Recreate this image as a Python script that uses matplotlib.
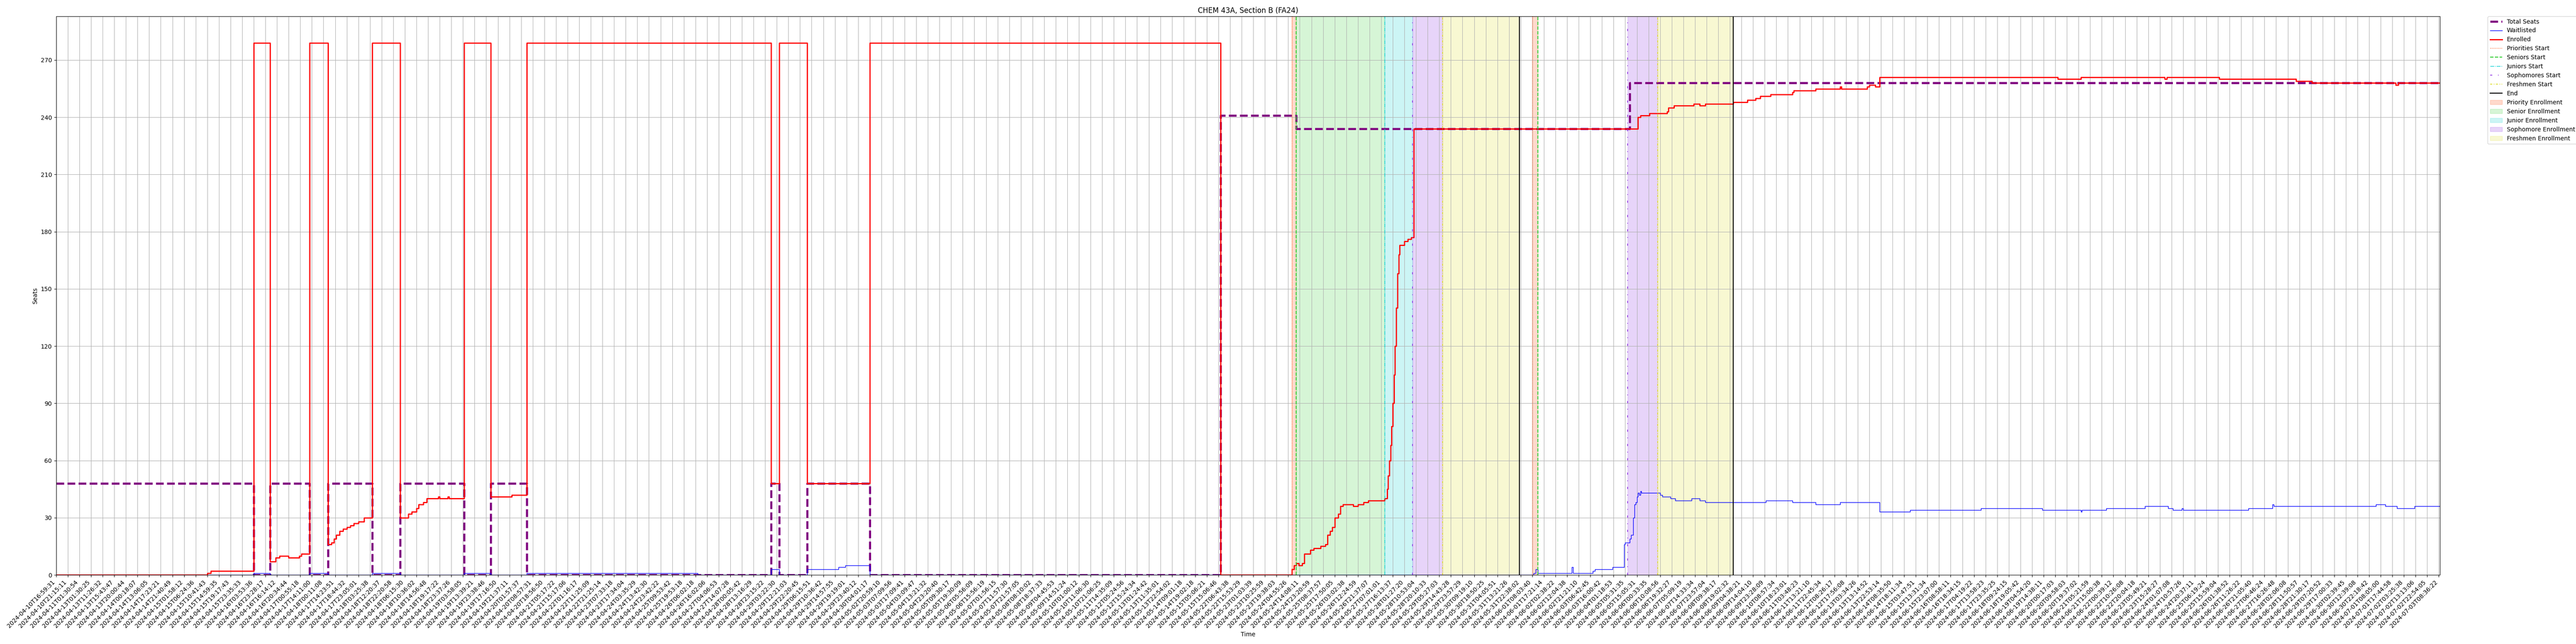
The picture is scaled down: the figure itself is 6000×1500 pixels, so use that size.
import numpy as np
import matplotlib
matplotlib.use('Agg')
import matplotlib.pyplot as plt

# x positions are sample numbers (one scrape per sample), a tick every 10 samples
n_samples = 2052
tick_every = 10

tick_labels = [
    '2024-04-10T16:59:31', '2024-04-10T21:15:11', '2024-04-11T01:30:54', '2024-04-13T01:30:25',
    '2024-04-13T11:26:32', '2024-04-13T15:43:47', '2024-04-13T20:00:44', '2024-04-14T00:18:07',
    '2024-04-14T13:06:05', '2024-04-14T17:23:21', '2024-04-14T21:40:49', '2024-04-15T01:58:12',
    '2024-04-15T06:24:36', '2024-04-15T10:41:43', '2024-04-15T14:59:35', '2024-04-15T19:17:43',
    '2024-04-15T23:35:33', '2024-04-16T03:53:36', '2024-04-16T23:28:17', '2024-04-16T16:14:12',
    '2024-04-16T20:34:44', '2024-04-17T00:55:18', '2024-04-17T14:11:00', '2024-04-18T00:11:08',
    '2024-04-17T14:23:51', '2024-04-17T18:44:32', '2024-04-17T23:05:01', '2024-04-18T03:25:38',
    '2024-04-18T12:20:37', '2024-04-18T22:20:58', '2024-04-18T06:15:30', '2024-04-18T10:36:02',
    '2024-04-18T14:56:48', '2024-04-18T19:17:22', '2024-04-18T23:37:26', '2024-04-19T03:58:05',
    '2024-04-19T13:39:21', '2024-04-19T23:38:46', '2024-04-19T17:16:50', '2024-04-19T21:37:11',
    '2024-04-20T01:57:37', '2024-04-20T08:57:31', '2024-04-20T18:56:50', '2024-04-21T05:17:22',
    '2024-04-21T15:17:06', '2024-04-22T01:16:17', '2024-04-22T11:25:09', '2024-04-22T21:25:14',
    '2024-04-23T07:33:18', '2024-04-23T17:34:04', '2024-04-24T03:35:29', '2024-04-24T13:42:30',
    '2024-04-24T23:42:22', '2024-04-25T09:53:42', '2024-04-25T19:53:18', '2024-04-26T06:02:18',
    '2024-04-26T16:02:06', '2024-04-27T04:06:53', '2024-04-27T14:07:28', '2024-04-28T00:05:42',
    '2024-04-28T13:16:29', '2024-04-28T23:15:22', '2024-04-29T03:22:30', '2024-04-29T12:21:03',
    '2024-04-29T22:20:45', '2024-04-29T06:15:51', '2024-04-29T10:36:42', '2024-04-29T14:57:55',
    '2024-04-29T19:19:01', '2024-04-29T23:40:12', '2024-04-30T04:01:17', '2024-05-02T20:59:10',
    '2024-05-03T07:09:56', '2024-05-03T17:09:41', '2024-05-04T03:09:47', '2024-05-04T13:21:32',
    '2024-05-04T23:20:40', '2024-05-05T09:30:17', '2024-05-05T19:30:09', '2024-05-06T05:56:09',
    '2024-05-06T15:56:19', '2024-05-07T01:56:15', '2024-05-07T11:57:30', '2024-05-07T21:57:05',
    '2024-05-08T08:10:02', '2024-05-08T18:37:33', '2024-05-09T04:45:53', '2024-05-09T14:51:24',
    '2024-05-10T01:00:12', '2024-05-10T11:06:30', '2024-05-10T21:06:25', '2024-05-11T14:35:09',
    '2024-05-12T05:24:56', '2024-05-12T15:24:34', '2024-05-13T01:24:42', '2024-05-13T11:35:01',
    '2024-05-13T22:54:02', '2024-05-14T09:01:18', '2024-05-14T19:02:18', '2024-05-15T05:06:21',
    '2024-05-15T15:06:46', '2024-05-22T06:43:38', '2024-05-22T15:53:29', '2024-05-23T01:03:39',
    '2024-05-23T10:25:59', '2024-05-23T19:38:03', '2024-05-24T04:55:26', '2024-05-24T14:08:11',
    '2024-05-24T23:20:59', '2024-05-25T08:37:57', '2024-05-25T17:50:05', '2024-05-26T03:02:38',
    '2024-05-26T12:24:59', '2024-05-26T21:37:07', '2024-05-27T07:01:01', '2024-05-27T16:13:37',
    '2024-05-28T01:27:20', '2024-05-28T10:53:04', '2024-05-28T20:10:33', '2024-05-29T05:27:03',
    '2024-05-29T14:43:28', '2024-05-29T23:57:29', '2024-05-30T09:19:10', '2024-05-30T18:50:25',
    '2024-05-31T04:05:51', '2024-05-31T13:21:26', '2024-05-31T22:38:02', '2024-06-01T08:03:40',
    '2024-06-01T17:21:14', '2024-06-02T02:38:22', '2024-06-02T12:04:38', '2024-06-02T21:21:10',
    '2024-06-03T06:42:45', '2024-06-03T16:00:42', '2024-06-04T01:18:53', '2024-06-05T05:31:35',
    '2024-06-05T15:05:31', '2024-06-06T00:33:35', '2024-06-06T10:08:56', '2024-06-06T19:32:27',
    '2024-06-07T05:09:19', '2024-06-07T14:33:34', '2024-06-07T23:57:04', '2024-06-08T09:38:17',
    '2024-06-08T19:02:32', '2024-06-09T04:38:21', '2024-06-09T14:04:10', '2024-06-09T23:28:09',
    '2024-06-10T08:57:34', '2024-06-10T18:23:01', '2024-06-11T03:48:23', '2024-06-11T13:21:10',
    '2024-06-11T22:45:34', '2024-06-12T08:26:17', '2024-06-12T17:56:08', '2024-06-13T03:34:26',
    '2024-06-13T13:14:52', '2024-06-13T22:53:14', '2024-06-14T08:35:50', '2024-06-14T18:11:34',
    '2024-06-15T03:47:51', '2024-06-15T13:31:34', '2024-06-15T23:07:00', '2024-06-16T08:58:11',
    '2024-06-16T18:34:15', '2024-06-17T04:19:22', '2024-06-17T13:58:23', '2024-06-17T23:35:25',
    '2024-06-18T09:24:15', '2024-06-18T19:05:42', '2024-06-19T04:54:20', '2024-06-19T14:38:11',
    '2024-06-20T00:17:03', '2024-06-20T09:58:03', '2024-06-20T19:37:02', '2024-06-21T05:21:59',
    '2024-06-21T15:00:38', '2024-06-22T00:39:12', '2024-06-22T10:26:08', '2024-06-22T20:04:18',
    '2024-06-23T05:49:21', '2024-06-23T15:28:27', '2024-06-24T01:07:08', '2024-06-24T10:57:26',
    '2024-06-24T20:37:11', '2024-06-25T06:19:24', '2024-06-25T15:59:04', '2024-06-26T01:38:52',
    '2024-06-26T11:26:22', '2024-06-26T21:05:40', '2024-06-27T06:46:24', '2024-06-27T16:26:48',
    '2024-06-28T02:06:08', '2024-06-28T11:50:57', '2024-06-28T21:30:17', '2024-06-29T07:20:52',
    '2024-06-29T17:00:33', '2024-06-30T02:39:45', '2024-06-30T12:39:08', '2024-06-30T22:18:42',
    '2024-07-01T08:05:00', '2024-07-01T17:44:58', '2024-07-02T03:25:38', '2024-07-02T13:13:06',
    '2024-07-02T22:54:05', '2024-07-03T08:36:22',
]

# step series: sample where value changes, and new value
seats_x = [0, 170, 184, 218, 234, 272, 296, 351, 374, 405, 615, 622, 646, 700,
           1002, 1067, 1354, 2051]
seats_y = [48, 0, 48, 0, 48, 0, 48, 0, 48, 0, 48, 0, 48, 0,
           241, 234, 258, 258]

enrolled_x = [0, 130, 133, 170, 184, 189, 192, 200, 209, 211, 218,
              234, 237, 239, 241, 244, 247, 250, 253, 256, 260, 265, 272,
              296, 303, 306, 310, 312, 316, 319, 329, 330, 337, 338, 351,
              374, 392, 405, 615, 622, 646, 700, 1002,
              1063, 1065, 1067, 1069, 1072, 1074, 1079, 1082, 1088, 1092, 1094, 1096,
              1098, 1100, 1103, 1105, 1107, 1116, 1120, 1125, 1129,
              1143, 1145, 1146, 1147, 1148, 1149, 1150, 1151, 1152, 1153, 1154, 1155,
              1156, 1160, 1163, 1166, 1168,
              1361, 1363, 1371, 1386, 1387, 1392, 1409, 1414, 1419, 1443, 1455,
              1462, 1466, 1475, 1494, 1495, 1514, 1535, 1536, 1558, 1560, 1565, 1569,
              1722, 1742, 1814, 1816, 1861, 1927, 1941, 2013, 2015, 2051]
enrolled_y = [0, 1, 2, 279, 7, 9, 10, 9, 10, 11, 279,
              16, 17, 19, 21, 23, 24, 25, 26, 27, 28, 30, 279,
              30, 32, 33, 35, 37, 38, 40, 41, 40, 41, 40, 279,
              41, 42, 279, 48, 279, 48, 279, 0,
              3, 5, 6, 5, 6, 11, 13, 14, 15, 16, 21, 23,
              25, 30, 32, 36, 37, 36, 37, 38, 39,
              40, 45, 52, 60, 68, 78, 90, 105, 120, 140, 158, 168,
              173, 175, 176, 177, 234,
              240, 241, 242, 243, 245, 246, 247, 246, 247, 248, 249,
              250, 251, 252, 253, 254, 255, 256, 255, 256, 257, 256, 261,
              260, 261, 260, 261, 260, 259, 258, 257, 258, 258]

waitlist_x = [0, 170, 184, 218, 234, 272, 296, 351, 374, 405, 552, 615, 622, 646, 673, 679, 700,
              1271, 1273, 1275, 1304, 1305, 1322, 1324, 1339, 1349, 1350, 1354, 1355, 1357,
              1358, 1359, 1360, 1361, 1362, 1363, 1364, 1380, 1382, 1389, 1393, 1407, 1414,
              1419, 1471, 1494, 1514, 1535, 1569, 1595, 1656, 1709, 1742, 1743, 1764, 1797,
              1817, 1821, 1829, 1830, 1886, 1907, 1908, 1996, 2004, 2014, 2029, 2051]
waitlist_y = [0, 1, 0, 1, 0, 1, 0, 1, 0, 1, 0, 3, 0, 3, 4, 5, 0,
              1, 3, 1, 4, 1, 2, 3, 4, 16, 17, 19, 21, 30,
              37, 38, 41, 43, 42, 44, 43, 42, 41, 40, 39, 40, 39,
              38, 39, 38, 37, 38, 33, 34, 35, 34, 33, 34, 35, 36,
              35, 34, 35, 34, 35, 37, 36, 37, 36, 35, 36, 36]

# enrollment phases (sample numbers)
priority_starts = [1063, 1270]
senior_starts = [1067, 1275]
junior_starts = [1143]
sophomore_starts = [1167, 1352]
freshmen_starts = [1193, 1378]
end_points = [1259, 1443]

priority_spans = [(1063, 1067), (1270, 1275)]
senior_spans = [(1067, 1143)]
junior_spans = [(1143, 1167)]
sophomore_spans = [(1167, 1193), (1352, 1378)]
freshmen_spans = [(1193, 1259), (1378, 1443)]


fig, ax = plt.subplots(figsize=(60, 15), dpi=100)
fig.subplots_adjust(left=0.0218, right=0.9472, top=0.9747, bottom=0.1073)

ax.plot(seats_x, seats_y, drawstyle='steps-post', color='purple', linestyle='--',
        linewidth=3.5, label='Total Seats')
ax.plot(waitlist_x, waitlist_y, drawstyle='steps-post', color='blue', linewidth=1,
        label='Waitlisted')
ax.plot(enrolled_x, enrolled_y, drawstyle='steps-post', color='red', linewidth=2,
        label='Enrolled')

fresh_color = '#dddd22'

def draw_lines(xs, color, style, width, label):
    for i, x in enumerate(xs):
        ax.axvline(x, color=color, linestyle=style, linewidth=width,
                   label=label if i == 0 else None)

draw_lines(priority_starts, 'orangered', ':', 1, 'Priorities Start')
draw_lines(senior_starts, 'limegreen', '--', 1.5, 'Seniors Start')
draw_lines(junior_starts, 'darkturquoise', '-.', 1, 'Juniors Start')
draw_lines(sophomore_starts, 'blueviolet', (0, (3, 8, 1, 8)), 1.2, 'Sophomores Start')
draw_lines(freshmen_starts, fresh_color, (0, (3, 2, 1, 2)), 1.2, 'Freshmen Start')
draw_lines(end_points, 'black', '-', 1.5, 'End')

def draw_spans(spans, color, label):
    for i, (a, b) in enumerate(spans):
        ax.axvspan(a, b, color=color, alpha=0.2, label=label if i == 0 else None)

draw_spans(priority_spans, 'orangered', 'Priority Enrollment')
draw_spans(senior_spans, 'limegreen', 'Senior Enrollment')
draw_spans(junior_spans, 'darkturquoise', 'Junior Enrollment')
draw_spans(sophomore_spans, 'blueviolet', 'Sophomore Enrollment')
draw_spans(freshmen_spans, fresh_color, 'Freshmen Enrollment')

tick_pos = np.arange(len(tick_labels)) * tick_every
ax.set_xticks(tick_pos)
ax.set_xticklabels(tick_labels, rotation=45, ha='right')
ax.set_xlim(0, n_samples - 1)
ax.set_yticks(np.arange(0, 271, 30))
ax.set_ylim(0, 279 * 1.05)
ax.grid(True)

ax.set_title('CHEM 43A, Section B (FA24)')
ax.set_xlabel('Time')
ax.set_ylabel('Seats')
ax.legend(bbox_to_anchor=(1.02, 1), loc='upper left', borderaxespad=0.)

fig.savefig('out.png', dpi=100)
